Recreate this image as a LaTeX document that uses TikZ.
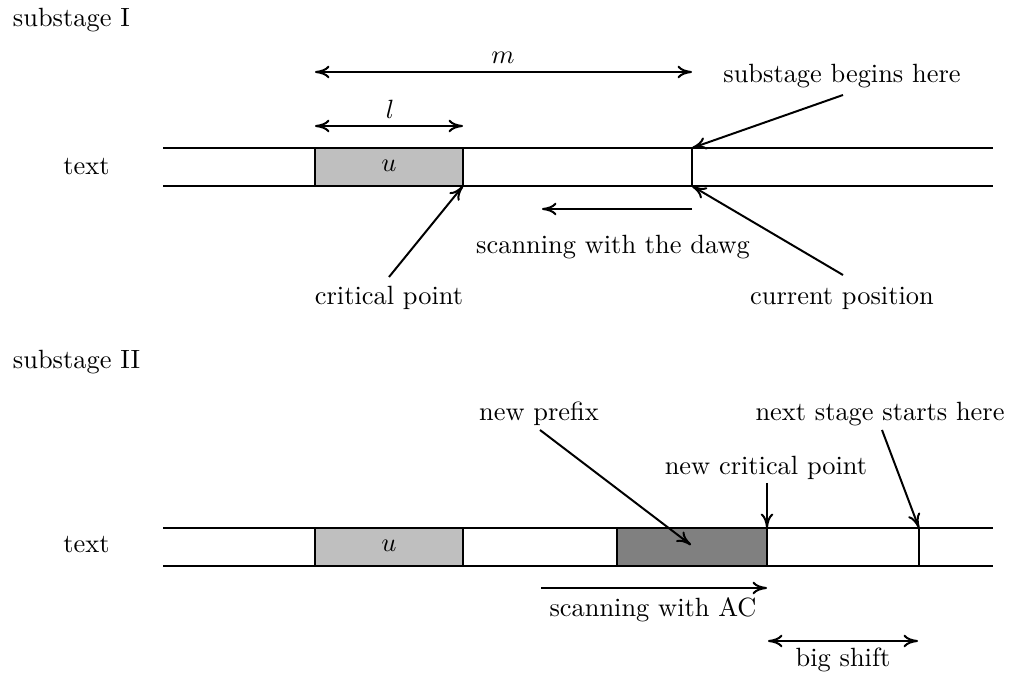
\documentclass[tikz,border=0pt]{standalone}
\usetikzlibrary{arrows.meta}
\begin{document}
\begin{tikzpicture}[x=0.379pt,y=-0.379pt,
  line width=0.75pt,
  tip/.tip={Computer Modern Rightarrow[length=5.5pt,width=4.8pt]},
  arr/.style={-tip},
  darr/.style={tip-tip},
  lbl/.style={anchor=base,inner sep=0pt},
  ubox/.style={draw,fill=black!25},
  pbox/.style={draw,fill=black!50},
  band/.style={draw},
]
\useasboundingbox (0,0) rectangle (1010,681);

% ---------- substage I ----------
\node[lbl,anchor=base west] (s1) at (12,27) {substage I};
\node[lbl] (t1) at (86.5,175) {text};

\coordinate (uA) at (315,148);
\coordinate (uB) at (463,186);
\draw[ubox] (uA) rectangle (uB);
\draw[band] (163,148) -- (993,148);
\draw[band] (163,186) -- (993,186);
\coordinate (cT) at (692,148);
\coordinate (cB) at (692,186);
\draw (cT) -- (cB);
\node[lbl] (u1) at (389,172) {$u$};

\coordinate (mL) at (315,72);
\coordinate (mR) at (692,72);
\draw[darr] (mL) -- (mR);
\node[lbl] (mlab) at (503,64) {$m$};

\coordinate (lL) at (315,126);
\coordinate (lR) at (463,126);
\draw[darr] (lL) -- (lR);
\node[lbl] (llab) at (390,119) {$l$};

\node[lbl] (sbh) at (842,83) {substage begins here};
\coordinate (sbhS) at (843,95);
\draw[arr] (sbhS) -- (cT);

\node[lbl] (cpos) at (842,305) {current position};
\coordinate (cposS) at (843,275);
\draw[arr] (cposS) -- (cB);

\node[lbl] (dawg) at (613,254) {scanning with the dawg};
\coordinate (dawgS) at (692,209);
\coordinate (dawgE) at (542,209);
\draw[arr] (dawgS) -- (dawgE);

\node[lbl] (crit) at (389,305) {critical point};
\coordinate (critS) at (389,277);
\draw[arr] (critS) -- (uB);

% ---------- substage II ----------
\node[lbl,anchor=base west] (s2) at (12,369) {substage II};
\node[lbl] (t2) at (86.5,553) {text};

\coordinate (vA) at (315,528);
\coordinate (vB) at (463,566);
\draw[ubox] (vA) rectangle (vB);
\coordinate (pA) at (617,528);
\coordinate (pB) at (767,566);
\draw[pbox] (pA) rectangle (pB);
\draw[band] (163,528) -- (993,528);
\draw[band] (163,566) -- (993,566);
\coordinate (nT) at (919,528);
\coordinate (nB) at (919,566);
\draw (nT) -- (nB);
\node[lbl] (u2) at (389,552) {$u$};

\node[lbl] (npre) at (539,421) {new prefix};
\coordinate (npreS) at (540,430);
\coordinate (npreE) at (691,545);
\draw[arr] (npreS) -- (npreE);

\node[lbl] (nss) at (880,421) {next stage starts here};
\coordinate (nssS) at (882,430);
\draw[arr] (nssS) -- (nT);

\node[lbl] (ncp) at (766,475) {new critical point};
\coordinate (ncpS) at (767,483);
\coordinate (ncpE) at (767,528);
\draw[arr] (ncpS) -- (ncpE);

\node[lbl] (sac) at (653,617) {scanning with AC};
\coordinate (sacS) at (541,588);
\coordinate (sacE) at (767,588);
\draw[arr] (sacS) -- (sacE);

\node[lbl] (bs) at (843,667) {big shift};
\coordinate (bsL) at (768,641);
\coordinate (bsR) at (918,641);
\draw[darr] (bsL) -- (bsR);
\end{tikzpicture}
\end{document}
